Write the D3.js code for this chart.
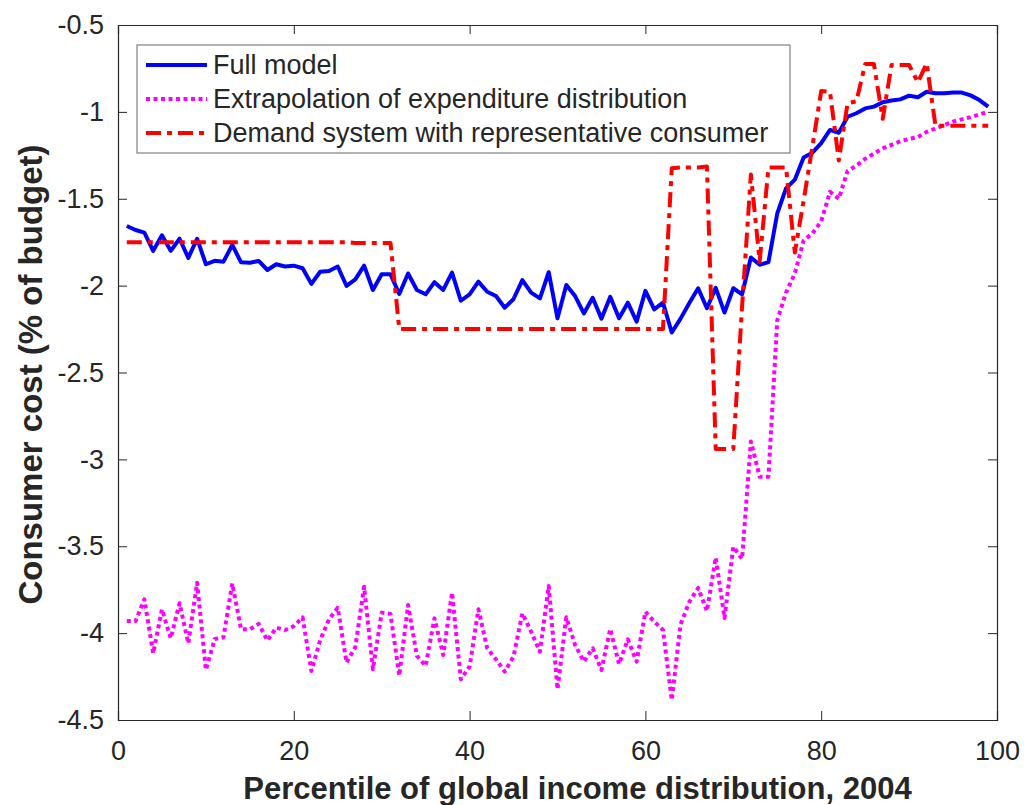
<!DOCTYPE html>
<html>
<head>
<meta charset="utf-8">
<script src="https://cdn.jsdelivr.net/npm/d3@7"></script>
<style>
  body { margin: 0; background: #fff; }
  svg text { font-family: "Liberation Sans", Arial, sans-serif; fill: #262626; }
</style>
</head>
<body>
<div class="chart"></div>
<script>
// percentiles 1..99
var percentiles = d3.range(1, 100);

var fullModel = [
  -1.657, -1.68, -1.695, -1.80, -1.71, -1.80, -1.73, -1.84, -1.73, -1.877,
  -1.857, -1.862, -1.766, -1.866, -1.868, -1.858, -1.91, -1.877, -1.89, -1.885,
  -1.90, -1.99, -1.92, -1.916, -1.89, -2.002, -1.964, -1.885, -2.025, -1.935,
  -1.935, -2.048, -1.93, -2.025, -2.05, -1.98, -2.025, -1.925, -2.087, -2.05,
  -1.977, -2.035, -2.06, -2.127, -2.077, -1.968, -2.04, -2.073, -1.923, -2.188,
  -1.996, -2.06, -2.16, -2.07, -2.19, -2.064, -2.188, -2.098, -2.207, -2.03,
  -2.137, -2.098, -2.27, -2.19, -2.10, -2.015, -2.13, -2.013, -2.155, -2.015,
  -2.05, -1.838, -1.88, -1.865, -1.585, -1.44, -1.39, -1.263, -1.235, -1.18,
  -1.104, -1.12, -1.028, -1.008, -0.98, -0.97, -0.945, -0.935, -0.928, -0.907,
  -0.916, -0.884, -0.893, -0.893, -0.889, -0.889, -0.905, -0.932, -0.97
];

var extrapolation = [
  -3.93, -3.93, -3.805, -4.116, -3.863, -4.03, -3.828, -4.059, -3.71, -4.212,
  -4.034, -4.024, -3.714, -3.978, -3.978, -3.947, -4.043, -3.969, -3.982, -3.96,
  -3.909, -4.218, -4.04, -3.921, -3.854, -4.17, -4.08, -3.733, -4.208, -3.882,
  -3.89, -4.245, -3.838, -4.13, -4.189, -3.915, -4.126, -3.767, -4.266, -4.193,
  -3.863, -4.087, -4.151, -4.222, -4.135, -3.886, -3.992, -4.107, -3.729, -4.323,
  -3.909, -4.068, -4.164, -4.087, -4.212, -3.976, -4.178, -4.036, -4.164, -3.877,
  -3.934, -3.982, -4.385, -3.95, -3.82, -3.74, -3.873, -3.565, -3.913, -3.503,
  -3.573, -2.897, -3.10, -3.10, -2.20, -2.04, -1.93, -1.74, -1.70, -1.63,
  -1.46, -1.50, -1.34, -1.31, -1.27, -1.24, -1.21, -1.19, -1.17, -1.155,
  -1.145, -1.115, -1.095, -1.076, -1.056, -1.043, -1.03, -1.015, -1.0
];

var demandSystem = [
  -1.75, -1.75, -1.75, -1.75, -1.75, -1.75, -1.75, -1.75, -1.75, -1.75,
  -1.75, -1.75, -1.75, -1.75, -1.75, -1.75, -1.75, -1.75, -1.75, -1.75,
  -1.75, -1.75, -1.75, -1.75, -1.75, -1.75, -1.755, -1.755, -1.755, -1.755,
  -1.755, -2.25, -2.25, -2.25, -2.25, -2.25, -2.25, -2.25, -2.25, -2.25,
  -2.25, -2.25, -2.25, -2.25, -2.25, -2.25, -2.25, -2.25, -2.25, -2.25,
  -2.25, -2.25, -2.25, -2.25, -2.25, -2.25, -2.25, -2.25, -2.25, -2.25,
  -2.25, -2.25, -1.325, -1.32, -1.32, -1.32, -1.315, -2.94, -2.94, -2.94,
  -2.12, -1.36, -1.86, -1.32, -1.32, -1.32, -1.81, -1.51, -1.20, -0.88,
  -0.885, -1.28, -0.95, -0.94, -0.725, -0.725, -1.04, -0.73, -0.73, -0.73,
  -0.83, -0.72, -1.08, -1.08, -1.08, -1.08, -1.08, -1.08, -1.08
];

var seriesNames = [
  "Full model",
  "Extrapolation of expenditure distribution",
  "Demand system with representative consumer"
];
var xTicks = [0, 20, 40, 60, 80, 100];
var yTicks = [-4.5, -4, -3.5, -3, -2.5, -2, -1.5, -1, -0.5];

var margin = { top : 25, right : 27, bottom : 85, left : 118 },
    width = 1024 - margin.left - margin.right,
    height = 805 - margin.top - margin.bottom;

var x = d3.scaleLinear().domain([0, 100]).range([0, width]);
var y = d3.scaleLinear().domain([-4.5, -0.5]).range([height, 0]);

var svg = d3.select(".chart").append("svg")
    .attr("width", 1024)
    .attr("height", 805)
  .append("g")
    .attr("transform", "translate(" + margin.left + "," + margin.top + ")");

var series = [
  { name : seriesNames[0], values : fullModel, color : "#0000ff", dash : null },
  { name : seriesNames[1], values : extrapolation, color : "#ff00ff", dash : "4,3.5" },
  { name : seriesNames[2], values : demandSystem, color : "#ff0000", dash : "15,6,5,6" }
];

var line = d3.line()
    .x(function (d) { return x(d[0]); })
    .y(function (d) { return y(d[1]); });

// lines
series.forEach(function (s) {
  svg.append("path")
      .datum(percentiles.map(function (p, i) { return [p, s.values[i]]; }))
      .attr("fill", "none")
      .attr("stroke", s.color)
      .attr("stroke-width", 4)
      .attr("stroke-linejoin", "round")
      .attr("stroke-dasharray", s.dash)
      .attr("d", line);
});

// axes, ticks pointing inward, box all around
var tickLen = 9;
var xAxis = d3.axisBottom(x).tickValues(xTicks).tickSize(-tickLen).tickPadding(21);
var yAxis = d3.axisLeft(y).tickValues(yTicks).tickSize(-tickLen).tickPadding(14)
    .tickFormat(function (d) { return String(d); });

svg.append("g").attr("transform", "translate(0," + height + ")").call(xAxis);
svg.append("g").call(yAxis);
svg.append("g")
    .call(d3.axisTop(x).tickValues(xTicks).tickSize(-tickLen).tickFormat(""));
svg.append("g").attr("transform", "translate(" + width + ",0)")
    .call(d3.axisRight(y).tickValues(yTicks).tickSize(-tickLen).tickFormat(""));

svg.selectAll(".domain").attr("stroke", "#262626").attr("stroke-width", 1.2);
svg.selectAll(".tick line").attr("stroke", "#262626").attr("stroke-width", 1);
svg.selectAll(".tick text")
    .style("font-size", "27px")
    .attr("fill", "#262626");

// axis titles
svg.append("text")
    .attr("x", width / 2 + 20)
    .attr("y", height + 79)
    .attr("text-anchor", "middle")
    .style("font-size", "31px")
    .style("font-weight", "bold")
    .text("Percentile of global income distribution, 2004");

svg.append("text")
    .attr("transform", "translate(" + (-76) + "," + (height / 2 + 2) + ") rotate(-90)")
    .attr("text-anchor", "middle")
    .style("font-size", "33px")
    .style("font-weight", "bold")
    .text("Consumer cost (% of budget)");

// legend
var legend = svg.append("g").attr("transform", "translate(19,20)");
legend.append("rect")
    .attr("width", 653)
    .attr("height", 108)
    .attr("fill", "#fff")
    .attr("stroke", "#808080")
    .attr("stroke-width", 1.2);

series.forEach(function (s, i) {
  var row = legend.append("g").attr("transform", "translate(0," + (20 + i * 34) + ")");
  row.append("line")
      .attr("x1", 9).attr("x2", 70)
      .attr("stroke", s.color)
      .attr("stroke-width", 4)
      .attr("stroke-dasharray", s.dash);
  row.append("text")
      .attr("x", 76)
      .attr("dy", "0.35em")
      .style("font-size", "27px")
      .text(s.name);
});
</script>
</body>
</html>
